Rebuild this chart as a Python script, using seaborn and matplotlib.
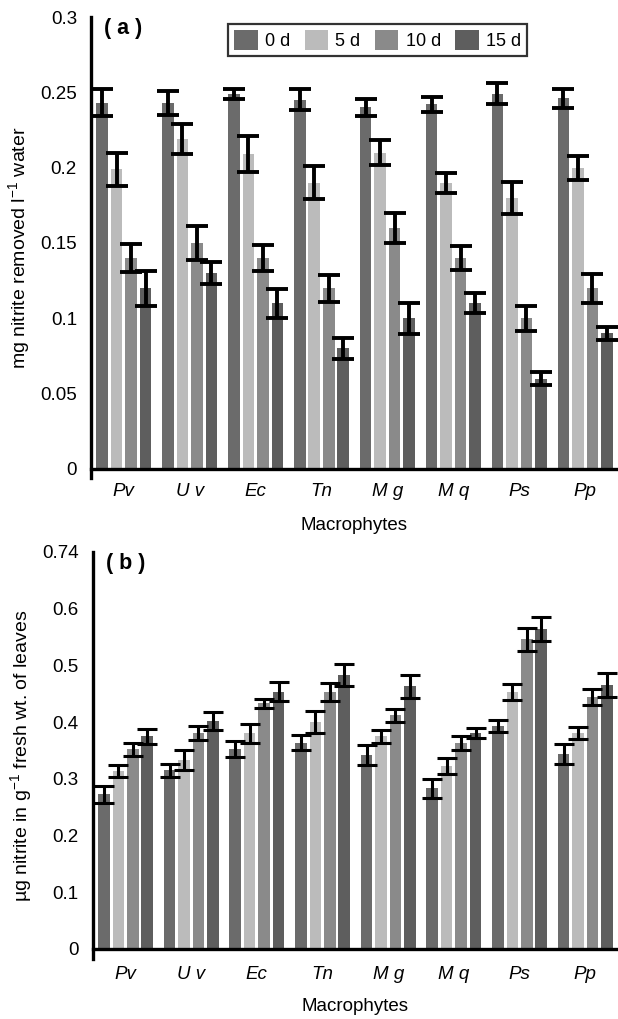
import numpy as np
import pandas as pd
import matplotlib
matplotlib.use("Agg")
import matplotlib.pyplot as plt
import seaborn as sns

# ---------------- data ----------------
species = ["Pv", "Uv", "Ec", "Tn", "Mg", "Mq", "Ps", "Pp"]
species_labels = ["Pv", "U v", "Ec", "Tn", "M g", "M q", "Ps", "Pp"]
days = ["0 d", "5 d", "10 d", "15 d"]
colors = ["#6b6b6b", "#bbbbbb", "#8a8a8a", "#5e5e5e"]

# (a) mg nitrite removed per litre water
a_0d = [0.243, 0.243, 0.249, 0.245, 0.240, 0.242, 0.249, 0.246]
a_5d = [0.199, 0.219, 0.209, 0.190, 0.210, 0.190, 0.180, 0.200]
a_10d = [0.140, 0.150, 0.140, 0.120, 0.160, 0.140, 0.100, 0.120]
a_15d = [0.120, 0.130, 0.110, 0.080, 0.100, 0.110, 0.060, 0.090]
a_0d_err = [0.009, 0.008, 0.0035, 0.007, 0.0055, 0.005, 0.007, 0.0065]
a_5d_err = [0.011, 0.010, 0.0120, 0.011, 0.0085, 0.0065, 0.0105, 0.008]
a_10d_err = [0.0095, 0.011, 0.0085, 0.009, 0.010, 0.008, 0.0085, 0.0095]
a_15d_err = [0.0115, 0.0075, 0.0095, 0.007, 0.0105, 0.0065, 0.0045, 0.0045]

# (b) ug nitrite per g fresh wt. of leaves
b_0d = [0.273, 0.315, 0.353, 0.364, 0.342, 0.283, 0.393, 0.344]
b_5d = [0.314, 0.333, 0.380, 0.400, 0.375, 0.323, 0.453, 0.381]
b_10d = [0.352, 0.381, 0.433, 0.453, 0.412, 0.363, 0.546, 0.444]
b_15d = [0.375, 0.402, 0.454, 0.483, 0.463, 0.381, 0.564, 0.465]
b_0d_err = [0.015, 0.012, 0.014, 0.013, 0.018, 0.017, 0.010, 0.017]
b_5d_err = [0.011, 0.017, 0.017, 0.020, 0.012, 0.014, 0.014, 0.010]
b_10d_err = [0.011, 0.012, 0.008, 0.016, 0.011, 0.013, 0.020, 0.014]
b_15d_err = [0.013, 0.016, 0.017, 0.020, 0.020, 0.009, 0.021, 0.021]

a_vals = [a_0d, a_5d, a_10d, a_15d]
a_errs = [a_0d_err, a_5d_err, a_10d_err, a_15d_err]
b_vals = [b_0d, b_5d, b_10d, b_15d]
b_errs = [b_0d_err, b_5d_err, b_10d_err, b_15d_err]


def long_df(vals):
    rows = []
    for d, series in zip(days, vals):
        for s, v in zip(species, series):
            rows.append({"species": s, "day": d, "value": v})
    return pd.DataFrame(rows)


sns.set_theme(style="white")
plt.rcParams["font.family"] = ["Liberation Sans", "DejaVu Sans"]
plt.rcParams["mathtext.fontset"] = "custom"
plt.rcParams["mathtext.rm"] = "Liberation Sans"
plt.rcParams["text.color"] = "black"
plt.rcParams["axes.labelcolor"] = "black"
plt.rcParams["xtick.labelcolor"] = "black"
plt.rcParams["ytick.labelcolor"] = "black"

fig = plt.figure(figsize=(6.18, 10.19), dpi=100)
ax1 = fig.add_axes([0.147, 0.5309, 0.853, 0.4524])
ax2 = fig.add_axes([0.150, 0.0589, 0.850, 0.3994])


def draw(ax, vals, errs, ylim, yticks, yticklabels, ylabel, panel, legend,
         elw, cap, xpad, xlabelpad):
    df = long_df(vals)
    sns.barplot(data=df, x="species", y="value", hue="day", order=species,
                hue_order=days, palette=colors, width=0.88, errorbar=None,
                linewidth=0, legend=legend, ax=ax)
    for cont, series, err in zip(ax.containers, vals, errs):
        for bar, v, e in zip(cont, series, err):
            w = bar.get_width()
            bar.set_x(bar.get_x() + w * 0.1)
            bar.set_width(w * 0.8)
            xc = bar.get_x() + bar.get_width() / 2
            ax.errorbar(xc, v, yerr=e, fmt="none", ecolor="black",
                        elinewidth=elw, capsize=cap, capthick=elw, zorder=5)
    for side in ["top", "right"]:
        ax.spines[side].set_visible(False)
    ax.spines["left"].set_color("black")
    ax.spines["left"].set_linewidth(2.4)
    ax.spines["bottom"].set_color("black")
    ax.spines["bottom"].set_linewidth(2.4)
    ax.spines["bottom"].set_position(("data", 0))
    ax.set_xlim(-0.5, 7.5)
    ax.set_ylim(*ylim)
    ax.set_xticks(np.arange(0.5, len(species) - 0.5, 1.0), minor=True)
    ax.tick_params(axis="x", which="major", length=0, pad=xpad)
    ax.tick_params(axis="x", which="minor", length=9, width=2,
                   color="#c8c8c8", direction="out")
    ax.tick_params(axis="y", which="major", length=7, width=2,
                   color="#b8b8b8", direction="out", pad=3)
    ax.set_yticks(yticks)
    ax.set_yticklabels(yticklabels, fontsize=13.5, color="black")
    ax.set_xticks(range(len(species)))
    ax.set_xticklabels(species_labels, fontsize=13.5, fontstyle="italic",
                       color="black")
    ax.set_xlabel("Macrophytes", fontsize=13.5, labelpad=xlabelpad,
                  color="black")
    ax.set_ylabel(ylabel, fontsize=14, labelpad=5, color="black")
    ax.text(0.025, 0.998, panel, transform=ax.transAxes, ha="left", va="top",
            fontsize=15.5, fontweight="bold", color="black")


draw(ax1, a_vals, a_errs, (-0.006, 0.3),
     [0, 0.05, 0.1, 0.15, 0.2, 0.25, 0.3],
     ["0", "0.05", "0.1", "0.15", "0.2", "0.25", "0.3"],
     r"mg nitrite removed l$^{-1}$ water", "( a )", True, 2.8, 8, 10, 12)

draw(ax2, b_vals, b_errs, (-0.0176, 0.7),
     [0, 0.1, 0.2, 0.3, 0.4, 0.5, 0.6, 0.7],
     ["0", "0.1", "0.2", "0.3", "0.4", "0.5", "0.6", "0.74"],
     r"µg nitrite in g$^{-1}$ fresh wt. of leaves", "( b )", False, 2.2, 7,
     12, 11)

handles, labels = ax1.get_legend_handles_labels()
leg = ax1.legend(handles, labels, loc="upper left",
                 bbox_to_anchor=(0.26, 0.985), borderaxespad=0, ncol=4,
                 frameon=True, fancybox=False, fontsize=13,
                 handlelength=1.3, handleheight=1.3, handletextpad=0.4,
                 columnspacing=0.8, borderpad=0.35)
leg.get_frame().set_edgecolor("black")
leg.get_frame().set_linewidth(1.6)

fig.savefig("out.png", dpi=100, facecolor="white")
